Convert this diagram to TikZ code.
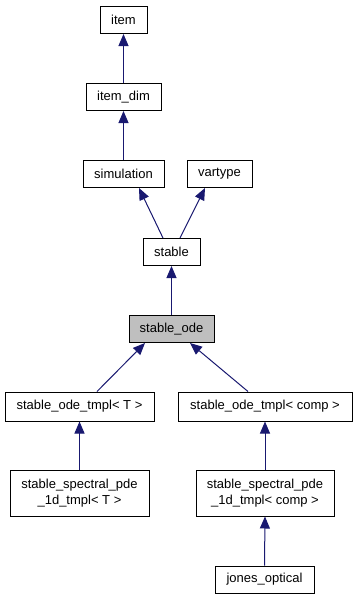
\documentclass[tikz,border=0pt]{standalone}
\usepackage{fontspec}
\setmainfont{Liberation Sans}
\usetikzlibrary{arrows.meta}
\definecolor{edgeblue}{HTML}{191970}
\definecolor{focusgray}{HTML}{BFBFBF}
\tikzset{
  cls/.style={draw=black, line width=1pt, fill=white, inner sep=0pt,
    minimum height=27pt, align=center,
    font=\fontsize{13}{15.5}\selectfont},
  edge/.style={draw=edgeblue, line width=1pt,
    {Triangle[width=10pt,length=12pt,fill=edgeblue]}-}
}
\begin{document}
\begin{tikzpicture}[x=1pt,y=-1pt]
\useasboundingbox (0,0) rectangle (357,600);

\node[cls, minimum width=47pt] (item) at (123.5,20) {item};
\node[cls, minimum width=75pt] (itemdim) at (123.5,97) {item\_dim};
\node[cls, minimum width=81pt] (simulation) at (123.5,174) {simulation};
\node[cls, minimum width=65pt] (vartype) at (219.5,174) {vartype};
\node[cls, minimum width=57pt] (stable) at (171.5,252) {stable};
\node[cls, minimum width=85pt, fill=focusgray] (stableode) at (171.5,329) {stable\_ode};
\node[cls, minimum width=149pt, minimum height=29pt] (tmplT) at (79.5,406.5) {stable\_ode\_tmpl{\textless} T {\textgreater}};
\node[cls, minimum width=174pt, minimum height=29pt] (tmplC) at (265,406.5) {stable\_ode\_tmpl{\textless} comp {\textgreater}};
\node[cls, minimum width=139pt, minimum height=46pt] (specT) at (79.5,493) {stable\_spectral\_pde\\\_1d\_tmpl{\textless} T {\textgreater}};
\node[cls, minimum width=138pt, minimum height=46pt] (specC) at (265,493) {stable\_spectral\_pde\\\_1d\_tmpl{\textless} comp {\textgreater}};
\node[cls, minimum width=99pt] (jones) at (264.5,579.5) {jones\_optical};

% inheritance arrows point from derived class up to base class
\draw[edge] (item.south) -- (itemdim.north);
\draw[edge] (itemdim.south) -- (simulation.north);
\draw[edge] ([xshift=15.5pt]simulation.south) -- ([xshift=-8.5pt]stable.north);
\draw[edge] ([xshift=-14.5pt]vartype.south) -- ([xshift=8.5pt]stable.north);
\draw[edge] (stable.south) -- (stableode.north);
\draw[edge] ([xshift=-26.5pt]stableode.south) -- ([xshift=17.5pt]tmplT.north);
\draw[edge] ([xshift=18.5pt]stableode.south) -- ([xshift=-17pt]tmplC.north);
\draw[edge] (tmplT.south) -- (specT.north);
\draw[edge] (tmplC.south) -- (specC.north);
\draw[edge] (specC.south) -- (jones.north);
\end{tikzpicture}
\end{document}
